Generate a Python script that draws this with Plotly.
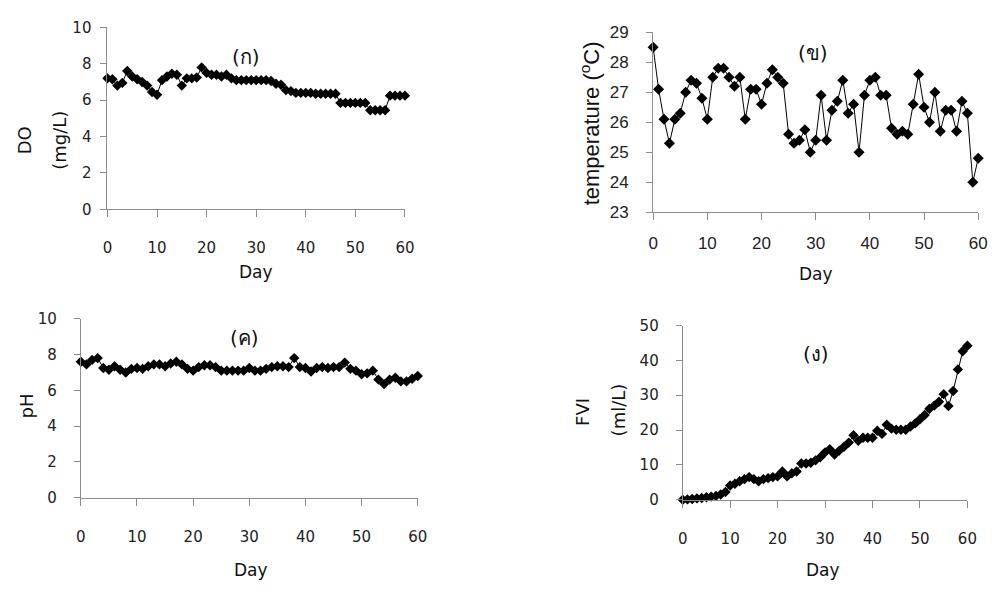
import plotly.graph_objects as go

days = list(range(61))
do_vals = [7.2, 7.15, 6.8, 6.95, 7.6, 7.3, 7.15, 7.0, 6.8, 6.45, 6.3,
           7.1, 7.3, 7.45, 7.4, 6.8, 7.2, 7.2, 7.25, 7.8, 7.5,
           7.4, 7.4, 7.3, 7.4, 7.2, 7.1, 7.1, 7.1, 7.1, 7.1,
           7.1, 7.1, 7.05, 6.9, 6.85, 6.55, 6.5, 6.4, 6.4, 6.4,
           6.4, 6.35, 6.35, 6.35, 6.35, 6.35, 5.85, 5.85, 5.85, 5.85,
           5.85, 5.85, 5.45, 5.45, 5.45, 5.45, 6.25, 6.25, 6.25, 6.25]
temp_vals = [28.5, 27.1, 26.1, 25.3, 26.1, 26.3, 27.0, 27.4, 27.3, 26.8, 26.1,
             27.5, 27.8, 27.8, 27.5, 27.2, 27.5, 26.1, 27.1, 27.1, 26.6,
             27.3, 27.75, 27.5, 27.3, 25.6, 25.3, 25.4, 25.75, 25.0, 25.4,
             26.9, 25.4, 26.4, 26.7, 27.4, 26.3, 26.6, 25.0, 26.9, 27.4,
             27.5, 26.9, 26.9, 25.8, 25.6, 25.7, 25.6, 26.6, 27.6, 26.5,
             26.0, 27.0, 25.7, 26.4, 26.4, 25.7, 26.7, 26.3, 24.0, 24.8]
ph_vals = [7.6, 7.45, 7.7, 7.8, 7.25, 7.15, 7.35, 7.15, 7.0, 7.2, 7.25,
           7.2, 7.35, 7.45, 7.45, 7.35, 7.5, 7.6, 7.45, 7.2, 7.1,
           7.3, 7.4, 7.4, 7.3, 7.1, 7.1, 7.1, 7.1, 7.1, 7.25,
           7.1, 7.1, 7.2, 7.3, 7.35, 7.35, 7.3, 7.8, 7.3, 7.25,
           7.05, 7.25, 7.3, 7.25, 7.3, 7.3, 7.55, 7.2, 7.1, 6.9,
           6.95, 7.1, 6.6, 6.35, 6.6, 6.7, 6.5, 6.5, 6.65, 6.8]
fvi_vals = [0, 0.1, 0.2, 0.4, 0.5, 0.7, 0.9, 1.1, 1.5, 2.2, 4.1,
            4.6, 5.3, 5.9, 6.5, 5.9, 5.3, 5.9, 6.2, 6.5, 6.7,
            8.1, 6.7, 7.6, 8.1, 10.4, 10.4, 10.6, 11.3, 12.2, 13.6,
            14.5, 13.0, 14.1, 15.2, 16.4, 18.5, 16.9, 17.8, 17.8, 17.8,
            19.8, 18.9, 21.5, 20.4, 20.1, 20.1, 20.1, 21.0, 21.9, 23.1,
            24.3, 26.1, 27.0, 28.1, 30.3, 26.9, 31.2, 37.4, 42.6, 44.2]

x_ticks = [0, 10, 20, 30, 40, 50, 60]
do_ticks = [0, 2, 4, 6, 8, 10]
temp_ticks = [23, 24, 25, 26, 27, 28, 29]
ph_ticks = [0, 2, 4, 6, 8, 10]
fvi_ticks = [0, 10, 20, 30, 40, 50]

panel_labels = ["(ก)", "(ข)", "(ค)", "(ง)"]
x_title = "Day"

W, H = 1003, 592
def fx(x):
    return x / W
def fy(y):
    return 1 - y / H

TAH = "Tahoma, 'DejaVu Sans', 'Noto Sans', sans-serif"
ARI = "Arial, 'Liberation Sans', sans-serif"
AXC = "#8c8c8c"

panels = [
    dict(vals=do_vals, ticks=do_ticks, rng=[0, 10], dom_x=(104, 406), dom_y=(19, 207),
         font=TAH, tsize=15, ylstand=6, xlstand=18, msize=8),
    dict(vals=temp_vals, ticks=temp_ticks, rng=[23, 29], dom_x=(658, 988), dom_y=(24, 210),
         font=ARI, tsize=17, ylstand=14, xlstand=8, msize=8.5),
    dict(vals=ph_vals, ticks=ph_ticks, rng=[0, 10], dom_x=(77, 419), dom_y=(320, 505),
         font=TAH, tsize=15, ylstand=14, xlstand=18, msize=8),
    dict(vals=fvi_vals, ticks=fvi_ticks, rng=[0, 50], dom_x=(688, 977), dom_y=(327, 507),
         font=TAH, tsize=15, ylstand=14, xlstand=18, msize=8),
]

fig = go.Figure()
layout = dict(width=W, height=H, margin=dict(l=0, r=0, t=0, b=0),
              paper_bgcolor="white", plot_bgcolor="white", showlegend=False)
annotations = []

for i, p in enumerate(panels, start=1):
    xa = "x" if i == 1 else f"x{i}"
    ya = "y" if i == 1 else f"y{i}"
    fig.add_trace(go.Scatter(
        x=days, y=p["vals"], xaxis=xa, yaxis=ya, mode="lines+markers",
        line=dict(color="black", width=1),
        marker=dict(symbol="diamond", size=p["msize"], color="black"),
        cliponaxis=False, hoverinfo="skip"))
    common_font = dict(family=p["font"], size=p["tsize"], color="#222")
    layout["xaxis" if i == 1 else f"xaxis{i}"] = dict(
        domain=[fx(p["dom_x"][0]), fx(p["dom_x"][1])], anchor=ya,
        range=[0, 60], tickvals=x_ticks, ticks="outside", ticklen=7, tickcolor=AXC,
        showline=True, linecolor=AXC, linewidth=1, showgrid=False, zeroline=False,
        tickfont=common_font, ticklabelstandoff=p["xlstand"], fixedrange=True)
    layout["yaxis" if i == 1 else f"yaxis{i}"] = dict(
        domain=[fy(p["dom_y"][1]), fy(p["dom_y"][0])], anchor=xa,
        range=p["rng"], tickvals=p["ticks"], ticks="outside", ticklen=6, tickcolor=AXC,
        showline=True, linecolor=AXC, linewidth=1, showgrid=False, zeroline=False,
        tickfont=common_font, ticklabelstandoff=p["ylstand"], fixedrange=True)

def ann(text, x, y, size, family=TAH, angle=0):
    annotations.append(dict(text=text, x=fx(x), y=fy(y), xref="paper", yref="paper",
                            showarrow=False, textangle=angle,
                            font=dict(family=family, size=size, color="#111"),
                            xanchor="center", yanchor="middle"))

# panel labels
ann(panel_labels[0], 245, 50, 20)
ann(panel_labels[1], 820, 45, 20)
ann(panel_labels[2], 243, 340, 20)
ann(panel_labels[3], 823, 356, 20)

# x titles
ann(x_title, 255, 272, 17)
ann(x_title, 823, 274, 17)
ann(x_title, 250, 580, 17)
ann(x_title, 830, 580, 17)

# y titles
ann("DO", 20, 136, 18, angle=-90)
ann("(mg/L)", 55, 136, 18, angle=-90)
ann("temperature (<sup>o</sup>C)", 594, 118, 22, family=ARI, angle=-90)
ann("pH", 22, 410, 18, angle=-90)
ann("FVI", 586, 416, 18, angle=-90)
ann("(ml/L)", 623, 414, 18, angle=-90)

layout["annotations"] = annotations
fig.update_layout(**layout)
fig.write_html("out.html")
